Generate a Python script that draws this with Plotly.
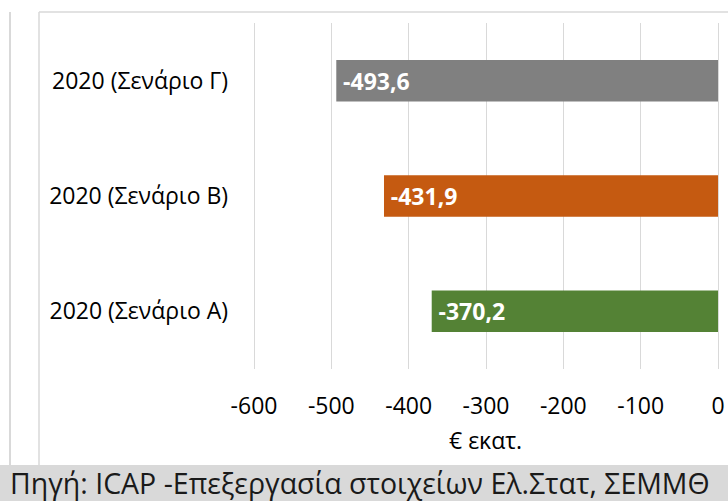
import plotly.graph_objects as go

categories = ["2020 (Σενάριο Α)", "2020 (Σενάριο Β)", "2020 (Σενάριο Γ)"]
values = [-370.2, -431.9, -493.6]
colors = ["#548235", "#C55A11", "#808080"]
tick_vals = [-600, -500, -400, -300, -200, -100, 0]
tick_text = ["-600", "-500", "-400", "-300", "-200", "-100", "0"]

W, H = 728, 501
FONT = "Open Sans"

fig = go.Figure()
fig.add_trace(go.Bar(
    y=categories, x=values, orientation="h",
    marker=dict(color=colors, line=dict(width=0)),
    width=0.36,
    texttemplate="\u2009%{x:.1f}",
    textposition="inside",
    insidetextanchor="end",
    textfont=dict(color="white", size=23, family=FONT, weight="bold"),
    cliponaxis=False,
    hoverinfo="skip",
))

# pixel mapping: -600 -> 254 px, 0 -> 718 px
ppu = (718 - 254) / 600.0
r0, r1 = -605, 5
px0 = 254 + (r0 + 600) * ppu
px1 = 718 + r1 * ppu
py0, py1 = 23, 369
fig.update_layout(
    width=W, height=H,
    margin=dict(l=0, r=0, t=0, b=0),
    paper_bgcolor="white", plot_bgcolor="white",
    separators=", ",
    showlegend=False,
    font=dict(family=FONT, color="#000000", size=22),
    xaxis=dict(
        domain=[px0 / W, px1 / W], range=[r0, r1],
        tickvals=tick_vals, ticktext=tick_text,
        showgrid=True, gridcolor="#D9D9D9", gridwidth=1,
        zeroline=False, showline=False,
        ticks="", ticklabelstandoff=21,
        tickfont=dict(size=23, color="#000000"),
        automargin=False,
    ),
    yaxis=dict(
        domain=[1 - py1 / H, 1 - py0 / H],
        showgrid=False, zeroline=False, showline=False,
        ticks="", ticklabelstandoff=21,
        tickfont=dict(size=23, color="#000000"),
        automargin=False,
    ),
    shapes=[
        dict(type="rect", xref="paper", yref="paper", x0=0, x1=1,
             y0=0, y1=1 - 465 / H, fillcolor="#D9D9D9", line=dict(width=0), layer="below"),
        dict(type="line", xref="paper", yref="paper", x0=10 / W, x1=10 / W,
             y0=1 - 465 / H, y1=1 - 12 / H, line=dict(color="#D9D9D9", width=2)),
        dict(type="line", xref="paper", yref="paper", x0=39 / W, x1=39 / W,
             y0=1 - 465 / H, y1=1 - 12 / H, line=dict(color="#D9D9D9", width=1.5)),
        dict(type="line", xref="paper", yref="paper", x0=39 / W, x1=1,
             y0=1 - 12 / H, y1=1 - 12 / H, line=dict(color="#D9D9D9", width=1.5)),
    ],
    annotations=[
        dict(text="€ εκατ.", xref="paper", yref="paper", x=486 / W, y=1 - 440 / H,
             showarrow=False, xanchor="center", yanchor="middle",
             font=dict(size=23, color="#000000", family=FONT)),
        dict(text="Πηγή: ICAP -Επεξεργασία στοιχείων Ελ.Στατ, ΣΕΜΜΘ", xref="paper", yref="paper",
             x=8 / W, y=1 - 483 / H, showarrow=False, xanchor="left", yanchor="middle",
             font=dict(size=28.5, color="#1a1a1a", family=FONT)),
    ],
)

fig.write_html("out.html", config={"displayModeBar": False},
               post_script="document.body.style.margin='0';document.body.style.overflow='hidden';")
